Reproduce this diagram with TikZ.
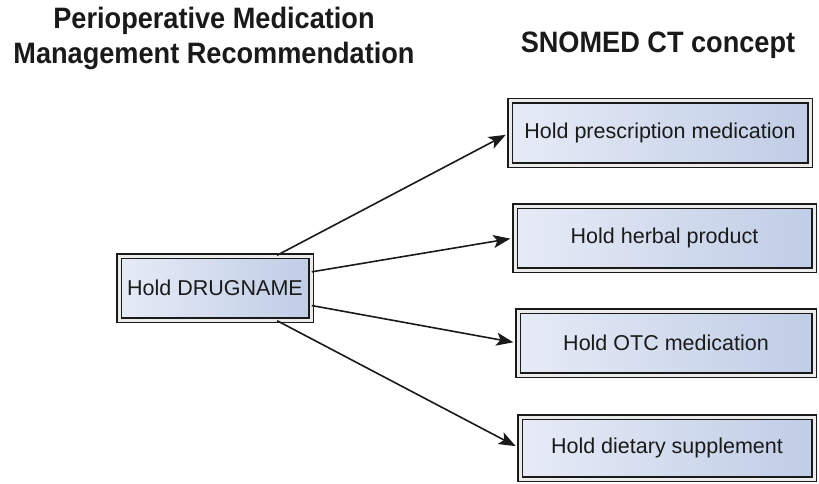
\documentclass[tikz,border=0pt]{standalone}
\usepackage{fontspec}
\setmainfont{Liberation Sans}
\newfontfamily\headfont[FakeStretch=0.92]{Liberation Sans}
\usetikzlibrary{arrows.meta,shadows}

\definecolor{boxleft}{HTML}{E6EBF6}
\definecolor{boxright}{HTML}{C0CDE6}
\definecolor{inkdark}{HTML}{1A1A1A}

\tikzset{
  conceptbox/.style={
    rectangle, draw=inkdark, line width=1.5pt, double=white!92!black,
    double distance=3pt, left color=boxleft, right color=boxright,
    inner sep=0pt, text=inkdark,
    font=\fontsize{21.5}{24}\selectfont,
    drop shadow={opacity=0.2, shadow xshift=2pt, shadow yshift=-3pt}
  },
  heading/.style={align=center, text=inkdark,
    font=\headfont\bfseries\fontsize{29.5}{35}\selectfont},
  link/.style={-{Stealth[length=17pt,width=13pt,inset=4pt]},
    line width=1.6pt, draw=inkdark, shorten >=4pt}
}

\begin{document}
\begin{tikzpicture}[x=1pt,y=-1pt]
  \useasboundingbox (0,0) rectangle (819,484);
  \fill[white] (0,0) rectangle (819,484);

  % column headings
  \node[heading] (hleft) at (214,38) {Perioperative Medication\\Management Recommendation};
  \node[heading] (hright) at (658,45) {SNOMED CT concept};

  % source recommendation
  \node[conceptbox, minimum width=192pt, minimum height=64pt] (drug) at (215,288) {Hold DRUGNAME};

  % target concepts
  \node[conceptbox, minimum width=300pt, minimum height=64pt] (presc) at (660,133) {Hold prescription medication};
  \node[conceptbox, minimum width=299pt, minimum height=64pt] (herbal) at (664.5,238) {Hold herbal product};
  \node[conceptbox, minimum width=296pt, minimum height=64pt] (otc) at (666,343) {Hold OTC medication};
  \node[conceptbox, minimum width=294pt, minimum height=62pt] (diet) at (667,448) {Hold dietary supplement};

  % mappings
  \draw[link] (drug) -- (presc.west);
  \draw[link] (drug) -- (herbal.west);
  \draw[link] (drug) -- (otc.west);
  \draw[link] (drug) -- (diet.west);
\end{tikzpicture}
\end{document}
